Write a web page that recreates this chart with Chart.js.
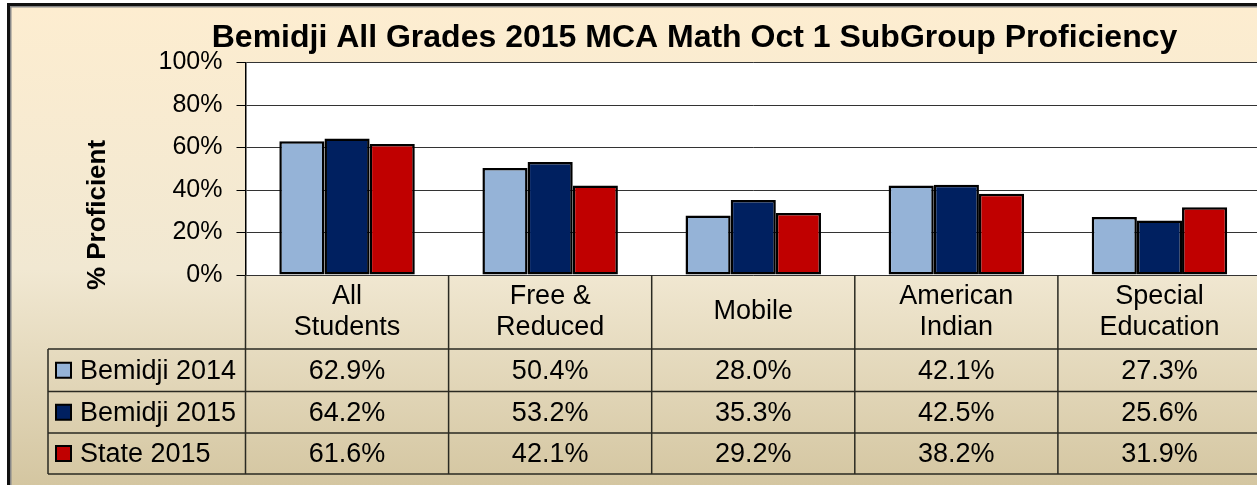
<!DOCTYPE html>
<html>
<head>
<meta charset="utf-8">
<script src="https://cdn.jsdelivr.net/npm/chart.js@4/dist/chart.umd.min.js"></script>
<style>
  html, body { margin: 0; padding: 0; background: #fff; overflow: hidden; }
  #wrap { width: 1264px; height: 485px; }
</style>
</head>
<body>
<div id="wrap"><canvas id="myChart" width="1264" height="485"></canvas></div>
<script>
const tituloGrafico = 'Bemidji All Grades 2015 MCA Math Oct 1 SubGroup Proficiency';
const tituloEixoY = '% Proficient';
const categorias = [['All', 'Students'], ['Free &', 'Reduced'], ['Mobile'], ['American', 'Indian'], ['Special', 'Education']];
const serieNomes = ['Bemidji 2014', 'Bemidji 2015', 'State 2015'];
const bemidji2014 = [62.9, 50.4, 28.0, 42.1, 27.3];
const bemidji2015 = [64.2, 53.2, 35.3, 42.5, 25.6];
const state2015 = [61.6, 42.1, 29.2, 38.2, 31.9];
const yTicks = [0, 20, 40, 60, 80, 100];

const cores = ['#95B3D7', '#002060', '#C00000'];
const fonte = '"Liberation Sans", Arial, sans-serif';

// fundo, moldura e titulos
const fundoPlugin = {
    id: 'fundo',
    beforeDraw(chart) {
        const ctx = chart.ctx;
        const a = chart.chartArea;
        ctx.save();
        const grad = ctx.createLinearGradient(0, 6, 0, 485);
        grad.addColorStop(0, '#fdedd0');
        grad.addColorStop(0.55, '#f1e8d2');
        grad.addColorStop(1, '#d4c6a1');
        ctx.fillStyle = grad;
        ctx.fillRect(7, 3, chart.width, chart.height);
        ctx.fillStyle = '#111';
        ctx.fillRect(7, 3, 3, chart.height);
        ctx.fillRect(7, 3, chart.width, 3);
        ctx.fillStyle = '#888';
        ctx.fillRect(10, 6, 1.5, chart.height);
        ctx.fillRect(10, 6, chart.width, 1.5);
        // area do grafico branca
        ctx.fillStyle = '#fff';
        ctx.fillRect(a.left, a.top, a.right - a.left, a.bottom - a.top);

        ctx.fillStyle = '#000';
        ctx.font = 'bold 32px ' + fonte;
        ctx.textAlign = 'center';
        ctx.textBaseline = 'middle';
        ctx.fillText(tituloGrafico, 694.5, 38);

        ctx.translate(98, 215);
        ctx.rotate(-Math.PI / 2);
        ctx.font = 'bold 26px ' + fonte;
        ctx.fillText(tituloEixoY, 0, 0);
        ctx.restore();
    }
};

// tabela de dados abaixo do grafico
const tabelaPlugin = {
    id: 'tabela',
    afterDraw(chart) {
        const ctx = chart.ctx;
        const a = chart.chartArea;
        const xs = chart.scales.x;
        const larg = (a.right - a.left) / categorias.length;
        const linhas = [349, 391.5, 433, 474];
        const esq = 48;
        ctx.save();
        ctx.strokeStyle = '#2a2a22';
        ctx.lineWidth = 1.5;
        ctx.beginPath();
        linhas.forEach(y => { ctx.moveTo(esq, y); ctx.lineTo(chart.width, y); });
        ctx.moveTo(esq, linhas[0]); ctx.lineTo(esq, linhas[3]);
        for (let i = 0; i <= categorias.length; i++) {
            const x = a.left + i * larg;
            ctx.moveTo(x, a.bottom); ctx.lineTo(x, linhas[3]);
        }
        ctx.stroke();

        ctx.fillStyle = '#000';
        ctx.font = '27px ' + fonte;
        ctx.textAlign = 'center';
        ctx.textBaseline = 'middle';
        categorias.forEach((cat, i) => {
            const cx = xs.getPixelForValue(i);
            const meio = (a.bottom + linhas[0]) / 2;
            cat.forEach((t, k) => {
                ctx.fillText(t, cx, meio + (k - (cat.length - 1) / 2) * 31);
            });
        });

        chart.data.datasets.forEach((ds, r) => {
            const cy = (linhas[r] + linhas[r + 1]) / 2;
            ctx.fillStyle = ds.backgroundColor;
            ctx.fillRect(56, cy - 7.5, 15, 15);
            ctx.strokeStyle = '#000';
            ctx.lineWidth = 2;
            ctx.strokeRect(56, cy - 7.5, 15, 15);
            ctx.fillStyle = '#000';
            ctx.textAlign = 'left';
            ctx.fillText(ds.label, 80, cy + 1);
            ctx.textAlign = 'center';
            ds.data.forEach((v, i) => {
                ctx.fillText(v.toFixed(1) + '%', xs.getPixelForValue(i), cy + 1);
            });
        });
        ctx.restore();
    }
};

const ctx = document.getElementById('myChart');
const myChart = new Chart(ctx, {
    type: 'bar',
    data: {
        labels: categorias,
        datasets: [bemidji2014, bemidji2015, state2015].map((dados, i) => ({
            label: serieNomes[i],
            data: dados,
            backgroundColor: cores[i],
            borderColor: '#000',
            borderWidth: 2.5,
            borderSkipped: false,
            categoryPercentage: 0.667,
            barPercentage: 1.0
        }))
    },
    options: {
        responsive: false,
        animation: false,
        layout: { padding: { left: 8, top: 62.5, right: 3, bottom: 210 } },
        scales: {
            x: { display: false },
            y: {
                min: 0,
                max: 100,
                afterFit: (s) => { s.width = 237.5; },
                afterBuildTicks: (s) => { s.ticks = yTicks.map(v => ({ value: v })); },
                ticks: {
                    color: '#000',
                    padding: 14,
                    font: { family: fonte, size: 25 },
                    callback: (v) => v + '%'
                },
                grid: { color: '#333', lineWidth: 1, tickLength: 9, tickColor: '#000' },
                border: { display: true, color: '#000', width: 1.5 }
            }
        },
        plugins: {
            legend: { display: false },
            title: { display: false },
            tooltip: { enabled: false }
        }
    },
    plugins: [fundoPlugin, tabelaPlugin]
});
</script>
</body>
</html>
